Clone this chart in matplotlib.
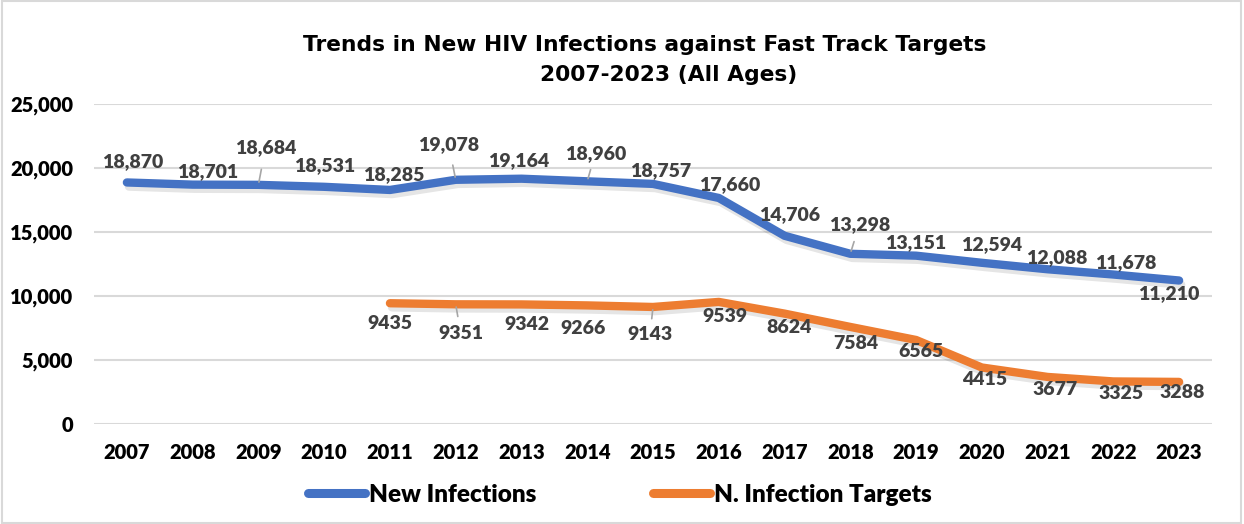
import matplotlib
matplotlib.use("Agg")
import matplotlib.pyplot as plt
import matplotlib.patheffects as pe
from matplotlib.patches import Rectangle

years = ["2007", "2008", "2009", "2010", "2011", "2012", "2013", "2014", "2015",
         "2016", "2017", "2018", "2019", "2020", "2021", "2022", "2023"]
new_infections = [18870, 18701, 18684, 18531, 18285, 19078, 19164, 18960, 18757,
                  17660, 14706, 13298, 13151, 12594, 12088, 11678, 11210]
target_years = ["2011", "2012", "2013", "2014", "2015", "2016", "2017", "2018",
                "2019", "2020", "2021", "2022", "2023"]
targets = [9435, 9351, 9342, 9266, 9143, 9539, 8624, 7584, 6565, 4415, 3677, 3325, 3288]
yticks = [0, 5000, 10000, 15000, 20000, 25000]

# label offsets in pixels (dx, dy) and whether a leader line is drawn
blue_off = [(6, 21), (15, 13), (7, 37), (0, 21), (4, 15), (-7, 35), (-3, 18), (8, 28),
            (8, 13), (11, 13), (5, 21), (9, 29), (0, 13), (10, 18), (9, 12), (12, 12), (-10, -13)]
blue_lead = [False, False, True, False, False, True, False, True, False, False, False, True,
             False, False, False, False, False]
orange_off = [(0, -20), (5, -29), (5, -20), (-4, -23), (-3, -28), (6, -15), (5, -14), (6, -17),
              (5, -12), (3, -12), (7, -13), (8, -12), (3, -11)]
orange_lead = [False, True, False, False, True, False, False, False, False, False, False, False, False]

BLUE = "#4472C4"
ORANGE = "#ED7D31"
LABEL = "#404040"
FONT = "Lato"
WEIGHT = "heavy"

W, H = 1244, 524
fig = plt.figure(figsize=(W / 100, H / 100), dpi=100)
fig.patches.append(Rectangle((0.0015, 0.002), 0.996, 0.996, transform=fig.transFigure,
                             fill=False, edgecolor="#D9D9D9", linewidth=1.5))

ax = fig.add_axes([94 / W, 1 - 424 / H, (1212 - 94) / W, (424 - 104) / H])
xi = list(range(len(years)))
txi = [years.index(y) for y in target_years]

shadow = [pe.SimpleLineShadow(offset=(1.5, -3), shadow_color="black", alpha=0.1, rho=1),
          pe.Normal()]
ax.plot(xi, new_infections, color=BLUE, lw=6, solid_capstyle="round",
        solid_joinstyle="round", label="New Infections", path_effects=shadow, zorder=3)
ax.plot(txi, targets, color=ORANGE, lw=6, solid_capstyle="round",
        solid_joinstyle="round", label="N. Infection Targets", path_effects=shadow, zorder=3)

ax.set_xlim(-0.5, len(years) - 0.5)
ax.set_ylim(0, 25000)
ax.set_yticks(yticks)
ax.set_yticklabels([f"{v:,}" for v in yticks])
ax.set_xticks(xi)
ax.set_xticklabels(years)
ax.grid(axis="y", color="#D9D9D9", lw=1.5)
ax.set_axisbelow(True)
for s in ax.spines.values():
    s.set_visible(False)
ax.tick_params(length=0)
ax.tick_params(axis="y", pad=15)
ax.tick_params(axis="x", pad=14)
for lab in ax.get_xticklabels() + ax.get_yticklabels():
    lab.set_fontfamily(FONT)
    lab.set_fontweight(WEIGHT)
    lab.set_fontsize(14.5)
    lab.set_color("black")


def put_labels(xs, vals, offs, leads, fmt):
    for x, v, (dx, dy), lead in zip(xs, vals, offs, leads):
        ax.annotate(fmt(v), (x, v), xytext=(dx, dy), textcoords="offset pixels",
                    ha="center", va="center", fontsize=14, fontweight=WEIGHT,
                    color=LABEL, family=FONT, zorder=5)
        if lead:
            ax.annotate("", (x, v), xytext=(dx * 0.42, dy * 0.42),
                        textcoords="offset pixels",
                        arrowprops=dict(arrowstyle="-", color="#A6A6A6", lw=1.2,
                                        shrinkA=0, shrinkB=2), zorder=4)


put_labels(xi, new_infections, blue_off, blue_lead, lambda v: f"{v:,}")
put_labels(txi, targets, orange_off, orange_lead, lambda v: f"{v}")

fig.text(645 / W, 1 - 45 / H, "Trends in New HIV Infections against Fast Track Targets",
         ha="center", va="center", fontsize=15.7, fontweight="bold", family="DejaVu Sans")
fig.text(669 / W, 1 - 75 / H, "2007-2023 (All Ages)",
         ha="center", va="center", fontsize=15.7, fontweight="bold", family="DejaVu Sans")

h, l = ax.get_legend_handles_labels()
leg = fig.legend(h, l, loc="center", bbox_to_anchor=(620 / W, 1 - 495 / H), ncol=2,
                 frameon=False, prop=dict(family=FONT, weight=WEIGHT, size=17.5),
                 handlelength=2.35, handletextpad=0.15, columnspacing=4.8)
for line in leg.get_lines():
    line.set_linewidth(6.5)
    line.set_path_effects([])
    line.set_solid_capstyle("round")

fig.savefig("out.png", dpi=100)
